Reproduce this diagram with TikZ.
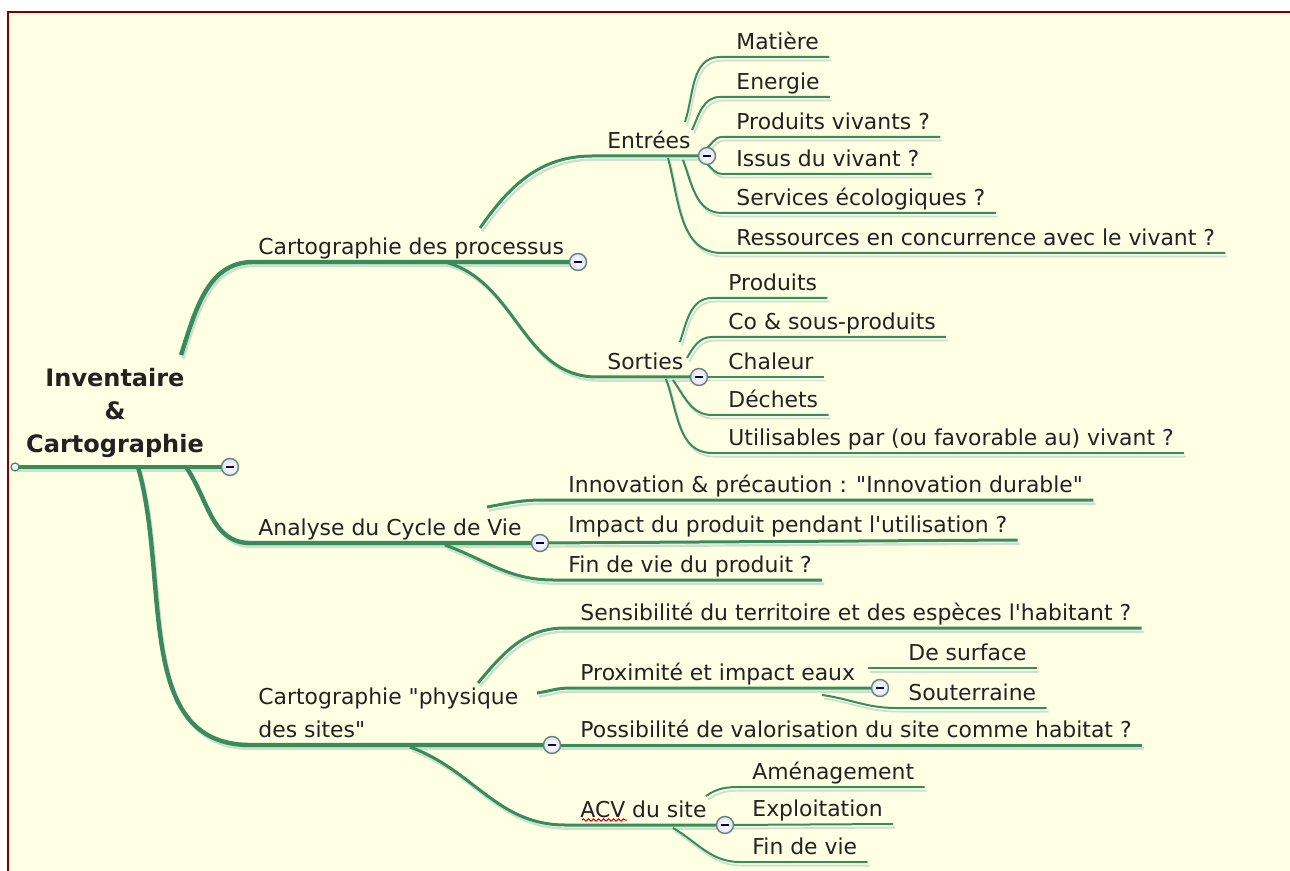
\documentclass[tikz,border=0pt]{standalone}
\usepackage{fontspec}
\setmainfont{DejaVu Sans}[Ligatures=TeXOff]
\usetikzlibrary{calc,decorations.pathmorphing}
\definecolor{mmgreen}{RGB}{58,138,92}
\definecolor{mmshade}{RGB}{200,226,204}
\definecolor{mmcream}{RGB}{255,255,228}
\definecolor{mmframe}{RGB}{128,0,0}
\definecolor{mmink}{RGB}{34,34,34}
\tikzset{
  topic/.style={font=\fontsize{10.95pt}{16.5pt}\selectfont, text=mmink, anchor=south west, inner xsep=0pt, inner ysep=3.5pt, text depth=0pt},
  rootnode/.style={font=\fontsize{12pt}{16.5pt}\selectfont\bfseries, text=mmink, align=center},
  ghost/.style={preaction={draw=mmshade, line width=#1, transform canvas={shift={(1pt,-1.8pt)}}}},
  trunk/.style={draw=mmgreen, line width=2.2pt, ghost=1.6pt},
  limb/.style={draw=mmgreen, line width=1.5pt, ghost=1.2pt},
  twig/.style={draw=mmgreen, line width=1pt, ghost=0.9pt},
  knob/.style={circle, draw=mmgreen!40!gray, inner color=white, outer color=blue!12, line width=0.7pt, minimum size=8.5pt, inner sep=0pt},
  tailknob/.style={circle, draw=mmgreen, fill=white, line width=0.6pt, minimum size=4pt, inner sep=0pt}
}
\def\fold(#1){\node[knob] at (#1) {}; \draw[line width=0.8pt, draw=blue!25!black] ($(#1)+(-4,0)$) -- ($(#1)+(4,0)$);}

\begin{document}
\begin{tikzpicture}[x=0.5pt,y=-0.5pt]
	\useasboundingbox (0,0) rectangle (1290,871);
	\fill[white] (0,0) rectangle (1290,871);
	\fill[mmcream] (8,12) rectangle (1290,871);
	\draw[mmframe, line width=1pt] (8,871) -- (8,12) -- (1290,12);

	% fold points
	\coordinate (root-tail) at (15,467);
	\coordinate (root-c) at (230,467);
	\coordinate (procs-c) at (578,262);
	\coordinate (entrees-c) at (707,156);
	\coordinate (sorties-c) at (699,377);
	\coordinate (analyse-c) at (540,543);
	\coordinate (sites-c) at (552,745);
	\coordinate (proxi-c) at (880,688);
	\coordinate (acv-c) at (725,825);

	% topics
	\node[rootnode] (root) at (115,413) {Inventaire\\\&\\Cartographie};
	\node[topic] (procs) at (258,262) {Cartographie des processus};
	\node[topic] (entrees) at (607,156) {Entrées};
	\node[topic] (matiere) at (736,57) {Matière};
	\node[topic] (energie) at (736,97) {Energie};
	\node[topic] (prodviv) at (736,137) {Produits vivants ?};
	\node[topic] (issus) at (736,174) {Issus du vivant ?};
	\node[topic] (services) at (736,213) {Services écologiques ?};
	\node[topic] (ressources) at (736,253) {Ressources en concurrence avec le vivant ?};
	\node[topic] (sorties) at (607,377) {Sorties};
	\node[topic] (produits) at (728,298) {Produits};
	\node[topic] (coprod) at (728,337) {Co \& sous-produits};
	\node[topic] (chaleur) at (728,377) {Chaleur};
	\node[topic] (dechets) at (728,415) {Déchets};
	\node[topic] (utilis) at (728,453) {Utilisables par (ou favorable au) vivant ?};
	\node[topic] (analyse) at (258,543) {Analyse du Cycle de Vie};
	\node[topic] (innov) at (568,500) {Innovation \& précaution : "Innovation durable"};
	\node[topic] (impact) at (568,540) {Impact du produit pendant l'utilisation ?};
	\node[topic] (findevie) at (568,580) {Fin de vie du produit ?};
	\node[topic, align=left] (sites) at (258,745) {Cartographie "physique\\des sites"};
	\node[topic] (sensib) at (580,628) {Sensibilité du territoire et des espèces l'habitant ?};
	\node[topic] (proxi) at (580,688) {Proximité et impact eaux};
	\node[topic] (surface) at (908,668) {De surface};
	\node[topic] (souter) at (908,708) {Souterraine};
	\node[topic] (possib) at (580,745) {Possibilité de valorisation du site comme habitat ?};
	\node[topic] (acv) at (580,825) {ACV du site};
	\node[topic] (amenag) at (752,787) {Aménagement};
	\node[topic] (exploit) at (752,824) {Exploitation};
	\node[topic] (finvie) at (752,862) {Fin de vie};

	% main branches
	\draw[trunk] (root-tail) -- (root-c);
	\draw[trunk] ($(root-c)+(-49,-112)$) to[out=72,in=180] ($(procs.south west)+(-5,0)$) -- (procs-c);
	\draw[trunk] ($(root-c)+(-44,0)$) to[out=-55,in=180] ($(analyse.south west)+(-8,0)$) -- (analyse-c);
	\draw[trunk] ($(root-c)+(-92,0)$) to[out=-74,in=180] ($(sites.south west)+(-8,0)$) -- (sites-c);

	% processus
	\draw[limb] ($(procs-c)+(-98,-34)$) to[out=55,in=180] ($(entrees.south west)+(-15,0)$) -- (entrees-c);
	\draw[limb] ($(procs-c)+(-133,0)$) to[out=-15,in=180] ($(sorties.south west)+(-10,0)$) -- (sorties-c);
	\draw[twig] ($(entrees-c)+(-22,-34)$) to[out=72,in=180] ($(matiere.south west)+(-16,0)$) -- ($(matiere.south east)+(10,0)$);
	\draw[twig] ($(entrees-c)+(-15,-26)$) to[out=65,in=180] ($(energie.south west)+(-16,0)$) -- ($(energie.south east)+(10,0)$);
	\draw[twig] ($(entrees-c)+(0,-8)$) to[out=40,in=180] ($(prodviv.south west)+(-14,0)$) -- ($(prodviv.south east)+(10,0)$);
	\draw[twig] ($(entrees-c)+(0,8)$) to[out=-40,in=180] ($(issus.south west)+(-14,0)$) -- ($(issus.south east)+(12,0)$);
	\draw[twig] ($(entrees-c)+(-24,4)$) to[out=-70,in=180] ($(services.south west)+(-14,0)$) -- ($(services.south east)+(10,0)$);
	\draw[twig] ($(entrees-c)+(-39,2)$) to[out=-75,in=180] ($(ressources.south west)+(-14,0)$) -- ($(ressources.south east)+(10,0)$);
	\draw[twig] ($(sorties-c)+(-19,-35)$) to[out=72,in=180] ($(produits.south west)+(-16,0)$) -- ($(produits.south east)+(10,0)$);
	\draw[twig] ($(sorties-c)+(-12,-19)$) to[out=60,in=180] ($(coprod.south west)+(-16,0)$) -- ($(coprod.south east)+(10,0)$);
	\draw[twig] (sorties-c) -- ($(chaleur.south east)+(10,0)$);
	\draw[twig] ($(sorties-c)+(-26,3)$) to[out=-55,in=180] ($(dechets.south west)+(-16,0)$) -- ($(dechets.south east)+(10,0)$);
	\draw[twig] ($(sorties-c)+(-33,2)$) to[out=-70,in=180] ($(utilis.south west)+(-16,0)$) -- ($(utilis.south east)+(10,0)$);

	% cycle de vie
	\draw[limb] ($(analyse-c)+(-53,-36)$) to[out=10,in=180] ($(innov.south west)+(-25,0)$) -- ($(innov.south east)+(10,0)$);
	\draw[limb] (analyse-c) -- ($(impact.south east)+(10,0)$);
	\draw[limb] ($(analyse-c)+(-95,2)$) to[out=-20,in=180] ($(findevie.south west)+(-15,0)$) -- ($(findevie.south east)+(10,0)$);

	% sites
	\draw[limb] ($(sites-c)+(-74,-62)$) to[out=50,in=180] ($(sensib.south west)+(-15,0)$) -- ($(sensib.south east)+(10,0)$);
	\draw[limb] ($(sites-c)+(-15,-52)$) to[out=8,in=180] ($(proxi.south west)+(-10,0)$) -- (proxi-c);
	\draw[limb] (sites-c) -- ($(possib.south east)+(10,0)$);
	\draw[limb] ($(sites-c)+(-142,2)$) to[out=-20,in=180] ($(acv.south west)+(-15,0)$) -- (acv-c);
	\draw[twig] ($(proxi-c)+(-12,-20)$) -- ($(surface.south east)+(10,0)$);
	\draw[twig] ($(proxi-c)+(-58,7)$) to[out=-8,in=180] ($(souter.south west)+(-12,0)$) -- ($(souter.south east)+(10,0)$);
	\draw[twig] ($(acv-c)+(-19,-29)$) to[out=35,in=180] ($(amenag.south west)+(-12,0)$) -- ($(amenag.south east)+(10,0)$);
	\draw[twig] (acv-c) -- ($(exploit.south east)+(10,0)$);
	\draw[twig] ($(acv-c)+(-52,3)$) to[out=-30,in=180] ($(finvie.south west)+(-12,0)$) -- ($(finvie.south east)+(10,0)$);

	% spell mark
	\draw[red!85!black, line width=0.5pt, decorate, decoration={snake, amplitude=0.6pt, segment length=2.5pt}] ($(acv.south west)+(2,-5)$) -- ($(acv.south west)+(47,-5)$);

	\node[tailknob] at (root-tail) {};
	\foreach \k in {root-c,procs-c,entrees-c,sorties-c,analyse-c,sites-c,proxi-c,acv-c} {\fold(\k)}
\end{tikzpicture}
\end{document}
